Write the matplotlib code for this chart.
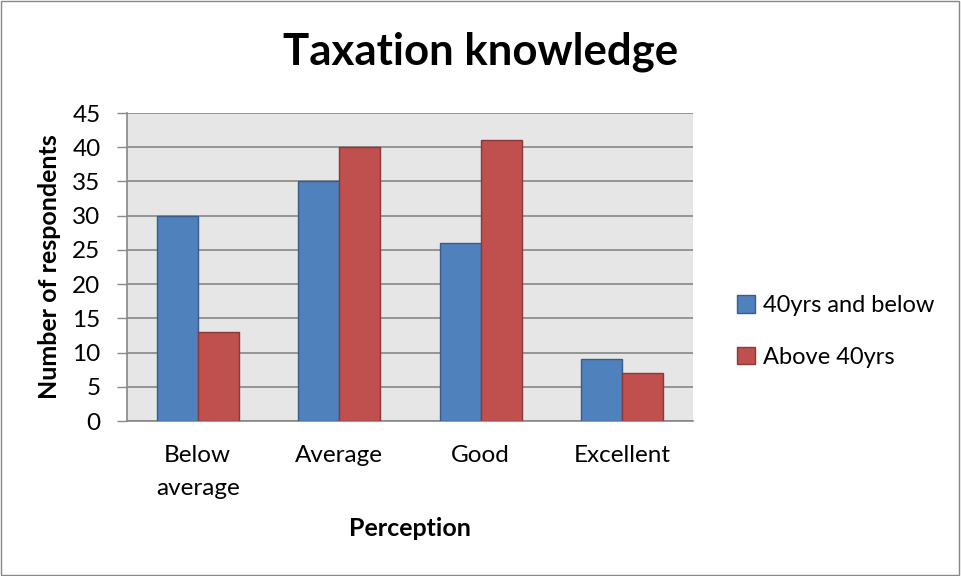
import matplotlib
matplotlib.use("Agg")
import matplotlib.pyplot as plt
import numpy as np
from matplotlib.patches import Rectangle

categories = ["Below\naverage", "Average", "Good", "Excellent"]
series_names = ["40yrs and below", "Above 40yrs"]
young = [30, 35, 26, 9]
old = [13, 40, 41, 7]
yticks = list(range(0, 50, 5))

plt.rcParams['font.family'] = ['Lato', 'DejaVu Sans']

fig = plt.figure(figsize=(9.61, 5.76), dpi=100)
fig.patch.set_facecolor('white')
fig.add_artist(Rectangle((0.001, 0.001), 0.997, 0.997, transform=fig.transFigure,
                         fill=False, edgecolor='#888888', linewidth=1))

ax = fig.add_axes([127/961, 1-421/576, (693-127)/961, (421-113)/576])
ax.set_facecolor('#E6E6E6')
x = np.arange(len(categories))
w = 0.29
ax.bar(x - w/2, young, w, color='#4F81BD', edgecolor='#385D8A', linewidth=1, label=series_names[0], zorder=3)
ax.bar(x + w/2, old, w, color='#C0504D', edgecolor='#8C3836', linewidth=1, label=series_names[1], zorder=3)

ax.set_xlim(-0.5, 3.5)
ax.set_ylim(0, 45)
ax.set_yticks(yticks)
ax.set_yticklabels([str(t) for t in yticks], fontsize=17.5)
ax.set_xticks(x)
ax.set_xticklabels(categories, fontsize=17.5, linespacing=1.75)
ax.tick_params(axis='x', length=0, pad=17)
ax.tick_params(axis='y', length=7, width=1, color='#888888', pad=12)
ax.yaxis.grid(True, color='#868686', linewidth=1.2, zorder=0)
ax.set_axisbelow(True)
for s in ['top', 'right']:
    ax.spines[s].set_visible(False)
ax.spines['left'].set_color('#888888')
ax.spines['bottom'].set_color('#888888')
ax.spines['left'].set_linewidth(1.2)
ax.spines['bottom'].set_linewidth(1.2)

ax.set_ylabel("Number of respondents", fontsize=18, fontweight='bold', labelpad=8)
ax.set_xlabel("Perception", fontsize=18, fontweight='bold', labelpad=13)
fig.text(0.5, 1-52/576, "Taxation knowledge", fontsize=31.5, fontweight='bold', ha='center', va='center')

leg = ax.legend(loc='center left', bbox_to_anchor=(1.04, 0.29), frameon=False, fontsize=17,
                handlelength=0.75, handleheight=0.75, handletextpad=0.35, labelspacing=1.3)

fig.savefig("out.png", dpi=100, facecolor='white')
